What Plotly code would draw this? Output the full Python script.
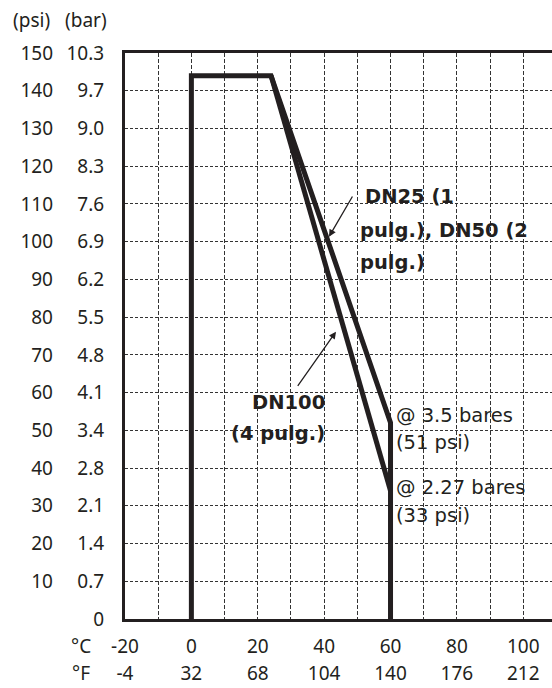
import plotly.graph_objects as go

# ---- data ----
psi_ticks = [0, 10, 20, 30, 40, 50, 60, 70, 80, 90, 100, 110, 120, 130, 140, 150]
psi_labels = ["", "10", "20", "30", "40", "50", "60", "70", "80", "90", "100", "110", "120", "130", "140", "150"]
bar_labels = ["0", "0.7", "1.4", "2.1", "2.8", "3.4", "4.1", "4.8", "5.5", "6.2", "6.9", "7.6", "8.3", "9.0", "9.7", "10.3"]
celsius_ticks = [-20, 0, 20, 40, 60, 80, 100]
celsius_labels = ["-20", "0", "20", "40", "60", "80", "100"]
fahrenheit_labels = ["-4", "32", "68", "104", "140", "176", "212"]
grid_c = [-10, 10, 30, 50, 70, 90, 110]

# DN25 (1 pulg.), DN50 (2 pulg.) envelope
env_temp = [0, 0, 24, 60, 60]
env_psi = [0, 144, 144, 52, 0]
# DN100 (4 pulg.) branch
dn100_temp = [24, 60]
dn100_psi = [144, 34]

INK = "#231f20"
GRID = "#333333"
FONT_TICK = "Noto Sans"
FONT_ANN = "DejaVu Sans"

fig = go.Figure()
fig.add_trace(go.Scatter(x=env_temp, y=env_psi, mode="lines",
                         line=dict(color=INK, width=5), hoverinfo="skip"))
fig.add_trace(go.Scatter(x=dn100_temp, y=dn100_psi, mode="lines",
                         line=dict(color=INK, width=5), hoverinfo="skip"))
# invisible traces to activate secondary axes
fig.add_trace(go.Scatter(x=[0], y=[0], yaxis="y2", mode="markers",
                         marker=dict(opacity=0), hoverinfo="skip"))
fig.add_trace(go.Scatter(x=[0], y=[0], xaxis="x2", mode="markers",
                         marker=dict(opacity=0), hoverinfo="skip"))

W, H = 562, 688
L, T, B = 125, 53, 69
PW, PH = W - L, H - T - B
PX_PER_DEG = 3.319
XR = [-20, -20 + PW / PX_PER_DEG]
YR = [0, 150]

fig.update_layout(
    width=W, height=H,
    margin=dict(l=L, r=0, t=T, b=B, autoexpand=False),
    paper_bgcolor="white", plot_bgcolor="white",
    showlegend=False,
    xaxis=dict(range=XR, tickvals=celsius_ticks, ticktext=celsius_labels,
               showgrid=True, gridcolor=GRID, gridwidth=1, griddash="4px,2px",
               minor=dict(tickvals=grid_c, showgrid=True, gridcolor=GRID,
                          gridwidth=1, griddash="4px,2px", ticks=""),
               showline=True, linecolor=INK, linewidth=3, mirror=True,
               ticks="", zeroline=False, ticklabelstandoff=8, automargin=False,
               tickfont=dict(family=FONT_TICK, size=19, color=INK)),
    xaxis2=dict(range=XR, overlaying="x", anchor="y", side="bottom",
                tickvals=celsius_ticks, ticktext=fahrenheit_labels,
                showgrid=False, showline=False, ticks="", zeroline=False,
                ticklabelstandoff=41, automargin=False,
                tickfont=dict(family=FONT_TICK, size=19, color=INK)),
    yaxis=dict(range=YR, tickvals=psi_ticks, ticktext=bar_labels,
               showgrid=True, gridcolor=GRID, gridwidth=1, griddash="3px,2px",
               showline=True, linecolor=INK, linewidth=3, mirror=False,
               ticks="", zeroline=False, ticklabelstandoff=14, automargin=False,
               tickfont=dict(family=FONT_TICK, size=19, color=INK)),
    yaxis2=dict(range=YR, overlaying="y", anchor="x", side="left",
                tickvals=psi_ticks, ticktext=psi_labels,
                showgrid=False, showline=False, ticks="", zeroline=False,
                ticklabelstandoff=71, automargin=False,
                tickfont=dict(family=FONT_TICK, size=19, color=INK)),
)

def pxp(px):
    return (px - L) / PW

def pyp(py):
    return (H - B - py) / PH

ann = []
hdr = dict(family=FONT_TICK, size=19, color=INK)
ann.append(dict(text="(psi)", xref="paper", yref="paper", x=pxp(52), y=pyp(20),
                xanchor="right", yanchor="middle", showarrow=False, font=hdr))
ann.append(dict(text="(bar)", xref="paper", yref="paper", x=pxp(109), y=pyp(20),
                xanchor="right", yanchor="middle", showarrow=False, font=hdr))
ann.append(dict(text="°C", xref="paper", yref="paper", x=pxp(81), y=pyp(646),
                xanchor="center", yanchor="middle", showarrow=False, font=hdr))
ann.append(dict(text="°F", xref="paper", yref="paper", x=pxp(81), y=pyp(673),
                xanchor="center", yanchor="middle", showarrow=False, font=hdr))

bold = dict(family=FONT_ANN, size=19.5, color=INK)
reg = dict(family=FONT_ANN, size=19.5, color=INK)

def px2x(px):
    return XR[0] + (px - L) / PX_PER_DEG

def py2y(py):
    return (H - B - py) / PH * 150

# DN25/DN50 label lines
for txt, px, py in [("<b>DN25 (1</b>", 363, 196), ("<b>pulg.), DN50 (2</b>", 358, 230),
                    ("<b>pulg.)</b>", 358, 262)]:
    ann.append(dict(text=txt, x=px2x(px), y=py2y(py), xanchor="left", yanchor="middle",
                    showarrow=False, font=bold))
# DN100 label
for txt, py in [("<b>DN100</b>", 402), ("<b>(4 pulg.)</b>", 433)]:
    ann.append(dict(text=txt, x=px2x(327), y=py2y(py), xanchor="right", yanchor="middle",
                    showarrow=False, font=bold))
# pressure notes
for txt, py in [("@ 3.5 bares", 415), ("(51 psi)", 442), ("@ 2.27 bares", 487), ("(33 psi)", 515)]:
    ann.append(dict(text=txt, x=px2x(394), y=py2y(py), xanchor="left", yanchor="middle",
                    showarrow=False, font=reg))
# arrows
for hx, hy, tx, ty in [(329, 236.7, 353.3, 195), (336, 331.7, 296.7, 387.3)]:
    ann.append(dict(text="", x=px2x(hx), y=py2y(hy), ax=px2x(tx), ay=py2y(ty),
                    axref="x", ayref="y", showarrow=True, arrowhead=2,
                    arrowsize=1.1, arrowwidth=1.3, arrowcolor=INK, standoff=0))

fig.update_layout(annotations=ann)
fig.write_html("out.html", config={"displayModeBar": False},
               post_script="document.body.style.margin='0';document.body.style.overflow='hidden';")
